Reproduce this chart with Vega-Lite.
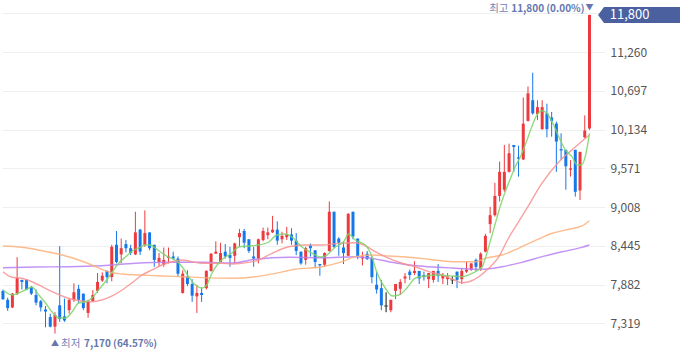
{
  "$schema": "https://vega.github.io/schema/vega-lite/v6.json",
  "width": 603,
  "height": 358,
  "padding": 0,
  "autosize": {"type": "pad"},
  "background": "white",
  "config": {"view": {"stroke": null}, "font": "Noto Sans CJK KR"},
  "datasets": {
    "candles": [
      {"t":0,"o":7790,"h":7810,"l":7660,"c":7670},
      {"t":1,"o":7660,"h":7690,"l":7500,"c":7540},
      {"t":2,"o":7550,"h":7760,"l":7540,"c":7750},
      {"t":3,"o":7750,"h":8280,"l":7730,"c":7980},
      {"t":4,"o":7950,"h":7950,"l":7810,"c":7920},
      {"t":5,"o":7950,"h":7960,"l":7800,"c":7810},
      {"t":6,"o":7840,"h":7860,"l":7730,"c":7750},
      {"t":7,"o":7730,"h":7810,"l":7580,"c":7620},
      {"t":8,"o":7640,"h":7660,"l":7490,"c":7550},
      {"t":9,"o":7520,"h":7570,"l":7260,"c":7490},
      {"t":10,"o":7410,"h":7460,"l":7260,"c":7270},
      {"t":11,"o":7270,"h":7480,"l":7170,"c":7440},
      {"t":12,"o":7580,"h":8440,"l":7340,"c":7380},
      {"t":13,"o":7420,"h":7680,"l":7340,"c":7360},
      {"t":14,"o":7510,"h":7680,"l":7460,"c":7660},
      {"t":15,"o":7660,"h":7900,"l":7630,"c":7770},
      {"t":16,"o":7820,"h":7880,"l":7610,"c":7660},
      {"t":17,"o":7750,"h":7750,"l":7510,"c":7540},
      {"t":18,"o":7470,"h":7660,"l":7400,"c":7640},
      {"t":19,"o":7640,"h":7800,"l":7640,"c":7730},
      {"t":20,"o":7790,"h":8050,"l":7760,"c":7920},
      {"t":21,"o":7940,"h":8060,"l":7920,"c":8010},
      {"t":22,"o":8080,"h":8090,"l":7900,"c":7990},
      {"t":23,"o":7990,"h":8460,"l":7930,"c":8430},
      {"t":24,"o":8460,"h":8660,"l":8190,"c":8210},
      {"t":25,"o":8320,"h":8550,"l":8190,"c":8410},
      {"t":26,"o":8470,"h":8530,"l":8350,"c":8410},
      {"t":27,"o":8410,"h":8460,"l":8310,"c":8340},
      {"t":28,"o":8320,"h":8940,"l":8310,"c":8640},
      {"t":29,"o":8680,"h":8690,"l":8310,"c":8360},
      {"t":30,"o":8460,"h":8960,"l":8430,"c":8630},
      {"t":31,"o":8640,"h":8640,"l":8380,"c":8410},
      {"t":32,"o":8460,"h":8460,"l":8140,"c":8240},
      {"t":33,"o":8210,"h":8340,"l":8140,"c":8270},
      {"t":34,"o":8170,"h":8420,"l":8140,"c":8240},
      {"t":35,"o":8270,"h":8420,"l":8190,"c":8290},
      {"t":36,"o":8290,"h":8360,"l":8240,"c":8260},
      {"t":37,"o":8260,"h":8290,"l":8000,"c":8040},
      {"t":38,"o":7760,"h":8090,"l":7750,"c":8040},
      {"t":39,"o":8000,"h":8090,"l":7860,"c":7890},
      {"t":40,"o":7890,"h":7960,"l":7630,"c":7720},
      {"t":41,"o":7710,"h":7880,"l":7470,"c":7760},
      {"t":42,"o":7760,"h":7840,"l":7630,"c":7730},
      {"t":43,"o":7830,"h":8090,"l":7810,"c":8080},
      {"t":44,"o":8080,"h":8340,"l":8070,"c":8330},
      {"t":45,"o":8330,"h":8510,"l":8330,"c":8360},
      {"t":46,"o":8210,"h":8490,"l":8210,"c":8340},
      {"t":47,"o":8360,"h":8470,"l":8260,"c":8290},
      {"t":48,"o":8310,"h":8430,"l":8140,"c":8270},
      {"t":49,"o":8300,"h":8490,"l":8190,"c":8480},
      {"t":50,"o":8570,"h":8690,"l":8430,"c":8630},
      {"t":51,"o":8660,"h":8690,"l":8410,"c":8490},
      {"t":52,"o":8540,"h":8540,"l":8340,"c":8370},
      {"t":53,"o":8290,"h":8430,"l":8140,"c":8260},
      {"t":54,"o":8260,"h":8550,"l":8190,"c":8540},
      {"t":55,"o":8530,"h":8710,"l":8510,"c":8660},
      {"t":56,"o":8600,"h":8710,"l":8540,"c":8640},
      {"t":57,"o":8640,"h":8880,"l":8630,"c":8680},
      {"t":58,"o":8680,"h":8800,"l":8460,"c":8520},
      {"t":59,"o":8540,"h":8650,"l":8480,"c":8590},
      {"t":60,"o":8570,"h":8720,"l":8530,"c":8610},
      {"t":61,"o":8610,"h":8700,"l":8460,"c":8520},
      {"t":62,"o":8520,"h":8630,"l":8310,"c":8370},
      {"t":63,"o":8360,"h":8360,"l":8170,"c":8190},
      {"t":64,"o":8240,"h":8430,"l":8170,"c":8410},
      {"t":65,"o":8450,"h":8480,"l":8290,"c":8410},
      {"t":66,"o":8380,"h":8380,"l":8120,"c":8210},
      {"t":67,"o":8180,"h":8180,"l":8010,"c":8160},
      {"t":68,"o":8170,"h":8350,"l":8140,"c":8340},
      {"t":69,"o":8370,"h":9090,"l":8360,"c":8940},
      {"t":70,"o":8940,"h":8940,"l":8410,"c":8430},
      {"t":71,"o":8550,"h":8570,"l":8300,"c":8490},
      {"t":72,"o":8420,"h":8510,"l":8180,"c":8340},
      {"t":73,"o":8300,"h":8920,"l":8300,"c":8910},
      {"t":74,"o":8940,"h":8940,"l":8540,"c":8580},
      {"t":75,"o":8550,"h":8550,"l":8250,"c":8290},
      {"t":76,"o":8260,"h":8360,"l":8160,"c":8290},
      {"t":77,"o":8330,"h":8370,"l":8240,"c":8250},
      {"t":78,"o":8260,"h":8290,"l":7900,"c":7990},
      {"t":79,"o":7880,"h":8070,"l":7750,"c":7810},
      {"t":80,"o":7830,"h":7950,"l":7510,"c":7580},
      {"t":81,"o":7570,"h":7770,"l":7480,"c":7570},
      {"t":82,"o":7510,"h":7660,"l":7480,"c":7660},
      {"t":83,"o":7790,"h":7890,"l":7670,"c":7890},
      {"t":84,"o":7820,"h":7960,"l":7730,"c":7920},
      {"t":85,"o":7970,"h":8050,"l":7900,"c":8000},
      {"t":86,"o":8070,"h":8100,"l":7950,"c":8020},
      {"t":87,"o":8050,"h":8220,"l":8020,"c":8080},
      {"t":88,"o":8080,"h":8080,"l":7890,"c":7970},
      {"t":89,"o":8020,"h":8070,"l":7940,"c":7990},
      {"t":90,"o":7960,"h":8050,"l":7830,"c":8050},
      {"t":91,"o":7950,"h":8080,"l":7910,"c":8080},
      {"t":92,"o":8080,"h":8180,"l":7920,"c":8010},
      {"t":93,"o":7970,"h":8050,"l":7890,"c":8020},
      {"t":94,"o":7960,"h":8050,"l":7875,"c":8000},
      {"t":95,"o":7950,"h":8000,"l":7890,"c":7950},
      {"t":96,"o":8070,"h":8070,"l":7830,"c":7950},
      {"t":97,"o":7960,"h":8120,"l":7890,"c":8080},
      {"t":98,"o":8070,"h":8220,"l":8050,"c":8100},
      {"t":99,"o":8100,"h":8190,"l":8080,"c":8190},
      {"t":100,"o":8240,"h":8260,"l":8080,"c":8140},
      {"t":101,"o":8120,"h":8350,"l":8080,"c":8330},
      {"t":102,"o":8360,"h":8620,"l":8350,"c":8590},
      {"t":103,"o":8760,"h":9010,"l":8630,"c":8890},
      {"t":104,"o":8890,"h":9360,"l":8870,"c":9170},
      {"t":105,"o":9170,"h":9670,"l":9090,"c":9520},
      {"t":106,"o":9260,"h":9910,"l":9230,"c":9520},
      {"t":107,"o":9520,"h":9930,"l":9510,"c":9790},
      {"t":108,"o":9910,"h":9910,"l":9520,"c":9880},
      {"t":109,"o":9730,"h":9900,"l":9450,"c":9710},
      {"t":110,"o":9700,"h":10600,"l":9690,"c":10220},
      {"t":111,"o":10260,"h":10760,"l":10250,"c":10660},
      {"t":112,"o":10560,"h":10960,"l":10350,"c":10370},
      {"t":113,"o":10360,"h":10560,"l":10270,"c":10460},
      {"t":114,"o":10140,"h":10560,"l":10130,"c":10460},
      {"t":115,"o":10370,"h":10510,"l":10020,"c":10140},
      {"t":116,"o":10310,"h":10390,"l":10030,"c":10260},
      {"t":117,"o":10220,"h":10250,"l":9520,"c":9960},
      {"t":118,"o":9850,"h":10080,"l":9690,"c":9830},
      {"t":119,"o":9840,"h":9840,"l":9260,"c":9600},
      {"t":120,"o":9550,"h":9690,"l":9450,"c":9570},
      {"t":121,"o":9840,"h":9840,"l":9160,"c":9230},
      {"t":122,"o":9250,"h":9810,"l":9110,"c":9810},
      {"t":123,"o":10020,"h":10340,"l":10010,"c":10120},
      {"t":124,"o":10150,"h":11800,"l":10130,"c":11800}
    ],
    "ma": [
      {"s":"MA120","t":0,"v":8127},{"s":"MA120","t":6.8,"v":8137},{"s":"MA120","t":13.9,"v":8141},{"s":"MA120","t":20.9,"v":8156},{"s":"MA120","t":28,"v":8191},{"s":"MA120","t":35,"v":8205},{"s":"MA120","t":42.1,"v":8205},{"s":"MA120","t":48.4,"v":8195},{"s":"MA120","t":53.4,"v":8249},{"s":"MA120","t":60.4,"v":8278},{"s":"MA120","t":67.5,"v":8272},{"s":"MA120","t":74.5,"v":8287},{"s":"MA120","t":78,"v":8263},{"s":"MA120","t":81.6,"v":8214},{"s":"MA120","t":85.8,"v":8166},{"s":"MA120","t":90,"v":8141},{"s":"MA120","t":94.9,"v":8122},{"s":"MA120","t":101.3,"v":8104},{"s":"MA120","t":105.5,"v":8141},{"s":"MA120","t":109.7,"v":8205},{"s":"MA120","t":114,"v":8287},{"s":"MA120","t":118.2,"v":8359},{"s":"MA120","t":122.4,"v":8423},{"s":"MA120","t":124,"v":8457},
      {"s":"MA60","t":0,"v":8442},{"s":"MA60","t":4,"v":8423},{"s":"MA60","t":8.3,"v":8374},{"s":"MA60","t":12.5,"v":8311},{"s":"MA60","t":16,"v":8239},{"s":"MA60","t":18.8,"v":8166},{"s":"MA60","t":20.9,"v":8104},{"s":"MA60","t":23.1,"v":8054},{"s":"MA60","t":25.2,"v":8035},{"s":"MA60","t":29.4,"v":8021},{"s":"MA60","t":33.6,"v":8006},{"s":"MA60","t":37.9,"v":7996},{"s":"MA60","t":42.1,"v":7982},{"s":"MA60","t":48.4,"v":7973},{"s":"MA60","t":53.4,"v":7996},{"s":"MA60","t":57.6,"v":8045},{"s":"MA60","t":61.8,"v":8104},{"s":"MA60","t":67.5,"v":8141},{"s":"MA60","t":71.7,"v":8214},{"s":"MA60","t":74.5,"v":8287},{"s":"MA60","t":78,"v":8311},{"s":"MA60","t":81.6,"v":8297},{"s":"MA60","t":85.8,"v":8278},{"s":"MA60","t":90,"v":8249},{"s":"MA60","t":94.9,"v":8214},{"s":"MA60","t":99.9,"v":8214},{"s":"MA60","t":102,"v":8263},{"s":"MA60","t":105.5,"v":8311},{"s":"MA60","t":109,"v":8409},{"s":"MA60","t":112.5,"v":8519},{"s":"MA60","t":116.1,"v":8627},{"s":"MA60","t":119.6,"v":8685},{"s":"MA60","t":122.4,"v":8733},{"s":"MA60","t":124,"v":8810},
      {"s":"MA20","t":0,"v":8069},{"s":"MA20","t":1.9,"v":7988},{"s":"MA20","t":4,"v":7973},{"s":"MA20","t":6.1,"v":7923},{"s":"MA20","t":8.3,"v":7851},{"s":"MA20","t":10.4,"v":7778},{"s":"MA20","t":12.5,"v":7716},{"s":"MA20","t":14.6,"v":7668},{"s":"MA20","t":16.7,"v":7643},{"s":"MA20","t":18.8,"v":7633},{"s":"MA20","t":20.9,"v":7657},{"s":"MA20","t":23.1,"v":7716},{"s":"MA20","t":25.2,"v":7803},{"s":"MA20","t":27.3,"v":7909},{"s":"MA20","t":29.4,"v":8021},{"s":"MA20","t":31.5,"v":8094},{"s":"MA20","t":33.6,"v":8166},{"s":"MA20","t":35.7,"v":8214},{"s":"MA20","t":37.9,"v":8239},{"s":"MA20","t":40,"v":8214},{"s":"MA20","t":42.1,"v":8191},{"s":"MA20","t":44.2,"v":8191},{"s":"MA20","t":46.3,"v":8191},{"s":"MA20","t":48.4,"v":8181},{"s":"MA20","t":50.5,"v":8191},{"s":"MA20","t":54.1,"v":8239},{"s":"MA20","t":56.9,"v":8336},{"s":"MA20","t":60.4,"v":8432},{"s":"MA20","t":63.9,"v":8457},{"s":"MA20","t":67.5,"v":8457},{"s":"MA20","t":71,"v":8481},{"s":"MA20","t":74.5,"v":8490},{"s":"MA20","t":76.6,"v":8447},{"s":"MA20","t":78.7,"v":8359},{"s":"MA20","t":81.6,"v":8263},{"s":"MA20","t":84.4,"v":8191},{"s":"MA20","t":87.2,"v":8141},{"s":"MA20","t":90,"v":8069},{"s":"MA20","t":92.8,"v":8021},{"s":"MA20","t":94.9,"v":7963},{"s":"MA20","t":97,"v":7909},{"s":"MA20","t":98.5,"v":7923},{"s":"MA20","t":100.6,"v":7996},{"s":"MA20","t":102.7,"v":8118},{"s":"MA20","t":104.8,"v":8282},{"s":"MA20","t":106.9,"v":8558},{"s":"MA20","t":109,"v":8791},{"s":"MA20","t":110.8,"v":8994},{"s":"MA20","t":114,"v":9358},{"s":"MA20","t":117.5,"v":9663},{"s":"MA20","t":121,"v":9881},{"s":"MA20","t":124,"v":10055},
      {"s":"MA5","t":0,"v":7803},{"s":"MA5","t":2,"v":7730},{"s":"MA5","t":3.3,"v":7759},{"s":"MA5","t":4.7,"v":7803},{"s":"MA5","t":6.1,"v":7846},{"s":"MA5","t":7.6,"v":7730},{"s":"MA5","t":9,"v":7614},{"s":"MA5","t":10.4,"v":7483},{"s":"MA5","t":11.8,"v":7396},{"s":"MA5","t":13.2,"v":7396},{"s":"MA5","t":14.6,"v":7483},{"s":"MA5","t":16,"v":7614},{"s":"MA5","t":17.4,"v":7628},{"s":"MA5","t":18.8,"v":7686},{"s":"MA5","t":20.2,"v":7803},{"s":"MA5","t":21.6,"v":7919},{"s":"MA5","t":23.1,"v":8064},{"s":"MA5","t":24.5,"v":8195},{"s":"MA5","t":25.9,"v":8282},{"s":"MA5","t":27.3,"v":8369},{"s":"MA5","t":28.7,"v":8413},{"s":"MA5","t":30.1,"v":8457},{"s":"MA5","t":31.2,"v":8457},{"s":"MA5","t":32.2,"v":8413},{"s":"MA5","t":33.6,"v":8340},{"s":"MA5","t":35,"v":8282},{"s":"MA5","t":36.4,"v":8239},{"s":"MA5","t":37.9,"v":8137},{"s":"MA5","t":39.3,"v":7992},{"s":"MA5","t":40.7,"v":7875},{"s":"MA5","t":42.1,"v":7832},{"s":"MA5","t":43.1,"v":7875},{"s":"MA5","t":44.2,"v":8050},{"s":"MA5","t":45.6,"v":8195},{"s":"MA5","t":47,"v":8282},{"s":"MA5","t":48.4,"v":8340},{"s":"MA5","t":49.8,"v":8428},{"s":"MA5","t":52,"v":8442},{"s":"MA5","t":54.1,"v":8457},{"s":"MA5","t":56.2,"v":8500},{"s":"MA5","t":57.9,"v":8602},{"s":"MA5","t":59.7,"v":8616},{"s":"MA5","t":61.1,"v":8573},{"s":"MA5","t":63.2,"v":8428},{"s":"MA5","t":65.3,"v":8340},{"s":"MA5","t":67.1,"v":8282},{"s":"MA5","t":68.5,"v":8311},{"s":"MA5","t":70.3,"v":8428},{"s":"MA5","t":72,"v":8500},{"s":"MA5","t":73.1,"v":8616},{"s":"MA5","t":74.5,"v":8529},{"s":"MA5","t":76.6,"v":8457},{"s":"MA5","t":77.7,"v":8340},{"s":"MA5","t":79.1,"v":8050},{"s":"MA5","t":80.8,"v":7832},{"s":"MA5","t":82.3,"v":7716},{"s":"MA5","t":83.7,"v":7730},{"s":"MA5","t":85.4,"v":7832},{"s":"MA5","t":87.2,"v":7977},{"s":"MA5","t":89.3,"v":8006},{"s":"MA5","t":92.1,"v":8021},{"s":"MA5","t":94.9,"v":8006},{"s":"MA5","t":97,"v":7996},{"s":"MA5","t":99.2,"v":8045},{"s":"MA5","t":101.3,"v":8141},{"s":"MA5","t":102,"v":8268},{"s":"MA5","t":103,"v":8505},{"s":"MA5","t":104.1,"v":8772},{"s":"MA5","t":105.1,"v":9013},{"s":"MA5","t":106.2,"v":9231},{"s":"MA5","t":107.3,"v":9426},{"s":"MA5","t":108.3,"v":9594},{"s":"MA5","t":109.4,"v":9740},{"s":"MA5","t":110.8,"v":9982},{"s":"MA5","t":111.8,"v":10176},{"s":"MA5","t":112.9,"v":10346},{"s":"MA5","t":114,"v":10408},{"s":"MA5","t":115,"v":10370},{"s":"MA5","t":116.1,"v":10248},{"s":"MA5","t":117.5,"v":10030},{"s":"MA5","t":118.9,"v":9837},{"s":"MA5","t":120.3,"v":9740},{"s":"MA5","t":121.4,"v":9619},{"s":"MA5","t":122.3,"v":9619},{"s":"MA5","t":123.1,"v":9740},{"s":"MA5","t":124,"v":10080}
    ],
    "hi": [{"t":124,"v":11800,"a":"최고","b":"11,800 (0.00%)","m":"▼"}],
    "lo": [{"t":11,"v":7170,"a":"최저","b":"7,170 (64.57%)","m":"▲"}],
    "tag": [{"t":134.7,"tx":128.3,"v":11800,"b":"11,800"}]
  },
  "encoding": {
    "x": {"field": "t", "type": "quantitative", "scale": {"domain": [-0.2, 127.28], "nice": false, "zero": false, "padding": 0}, "axis": null}
  },
  "layer": [
    {
      "data": {"name": "candles"},
      "mark": {"type": "rule", "strokeWidth": 1},
      "encoding": {
        "y": {"field": "l", "type": "quantitative",
          "scale": {"domain": [6814.8, 12016.5], "nice": false, "zero": false, "padding": 0},
          "axis": {"orient": "right", "values": [7319, 7882, 8445, 9008, 9571, 10134, 10697, 11260, 11823],
            "format": ",d", "labelExpr": "datum.value > 11500 ? '' : datum.label",
            "grid": true, "gridColor": "#efefef", "gridWidth": 1, "domain": false, "ticks": false,
            "labelPadding": 5, "labelColor": "#555555", "labelFontSize": 12, "labelFont": "Noto Sans CJK KR",
            "labelOverlap": false, "labelFlush": false, "title": null}},
        "y2": {"field": "h"},
        "color": {"condition": [{"test": "datum.c > datum.o", "value": "#ec3a3f"}, {"test": "datum.c < datum.o", "value": "#1677ea"}], "value": "#111111"}
      }
    },
    {
      "data": {"name": "candles"},
      "mark": {"type": "bar", "width": 3},
      "encoding": {
        "y": {"field": "o", "type": "quantitative"},
        "y2": {"field": "c"},
        "color": {"condition": [{"test": "datum.c > datum.o", "value": "#ec3a3f"}, {"test": "datum.c < datum.o", "value": "#1677ea"}], "value": "#111111"}
      }
    },
    {
      "data": {"name": "candles"},
      "transform": [{"filter": "datum.o == datum.c"}],
      "mark": {"type": "tick", "orient": "horizontal", "size": 4, "thickness": 1, "color": "#111111"},
      "encoding": {"y": {"field": "c", "type": "quantitative"}}
    },
    {
      "data": {"name": "ma"},
      "mark": {"type": "line", "strokeWidth": 1.4, "interpolate": "monotone", "opacity": 0.85},
      "encoding": {
        "y": {"field": "v", "type": "quantitative"},
        "color": {"field": "s", "type": "nominal", "scale": {"domain": ["MA5", "MA20", "MA60", "MA120"], "range": ["#7dd36a", "#f79090", "#fdb07a", "#b97ff3"]}, "legend": null},
        "order": {"field": "t", "type": "quantitative"}
      }
    },
    {
      "data": {"name": "tag"},
      "mark": {"type": "point", "shape": "M -1 0 L -0.86 -0.19 L 1 -0.19 L 1 0.19 L -0.86 0.19 Z", "size": 7056, "filled": true, "opacity": 1, "color": "#4a609f", "strokeWidth": 0},
      "encoding": {"y": {"field": "v", "type": "quantitative"}}
    },
    {
      "data": {"name": "tag"},
      "mark": {"type": "text", "align": "left", "baseline": "middle", "color": "white", "fontSize": 13, "font": "Noto Sans CJK KR"},
      "encoding": {"x": {"field": "tx", "type": "quantitative"}, "y": {"field": "v", "type": "quantitative"}, "text": {"field": "b"}}
    },
    {
      "data": {"name": "hi"},
      "mark": {"type": "text", "align": "center", "baseline": "middle", "dy": -7, "color": "#6577ae", "fontSize": 8},
      "encoding": {"y": {"field": "v", "type": "quantitative"}, "text": {"field": "m"}}
    },
    {
      "data": {"name": "hi"},
      "mark": {"type": "text", "align": "right", "baseline": "middle", "dx": -5, "dy": -6, "color": "#6577ae", "fontSize": 10, "fontWeight": "bold", "font": "Noto Sans CJK KR"},
      "encoding": {"y": {"field": "v", "type": "quantitative"}, "text": {"field": "b"}}
    },
    {
      "data": {"name": "hi"},
      "mark": {"type": "text", "align": "right", "baseline": "middle", "dx": -81, "dy": -6, "color": "#7283b5", "fontSize": 10.5, "font": "Noto Sans CJK KR"},
      "encoding": {"y": {"field": "v", "type": "quantitative"}, "text": {"field": "a"}}
    },
    {
      "data": {"name": "lo"},
      "mark": {"type": "text", "align": "center", "baseline": "middle", "dy": 10, "color": "#6577ae", "fontSize": 8},
      "encoding": {"y": {"field": "v", "type": "quantitative"}, "text": {"field": "m"}}
    },
    {
      "data": {"name": "lo"},
      "mark": {"type": "text", "align": "left", "baseline": "middle", "dx": 6, "dy": 10, "color": "#7283b5", "fontSize": 10.5, "font": "Noto Sans CJK KR"},
      "encoding": {"y": {"field": "v", "type": "quantitative"}, "text": {"field": "a"}}
    },
    {
      "data": {"name": "lo"},
      "mark": {"type": "text", "align": "left", "baseline": "middle", "dx": 29, "dy": 10, "color": "#6577ae", "fontSize": 10, "fontWeight": "bold", "font": "Noto Sans CJK KR"},
      "encoding": {"y": {"field": "v", "type": "quantitative"}, "text": {"field": "b"}}
    }
  ]
}
